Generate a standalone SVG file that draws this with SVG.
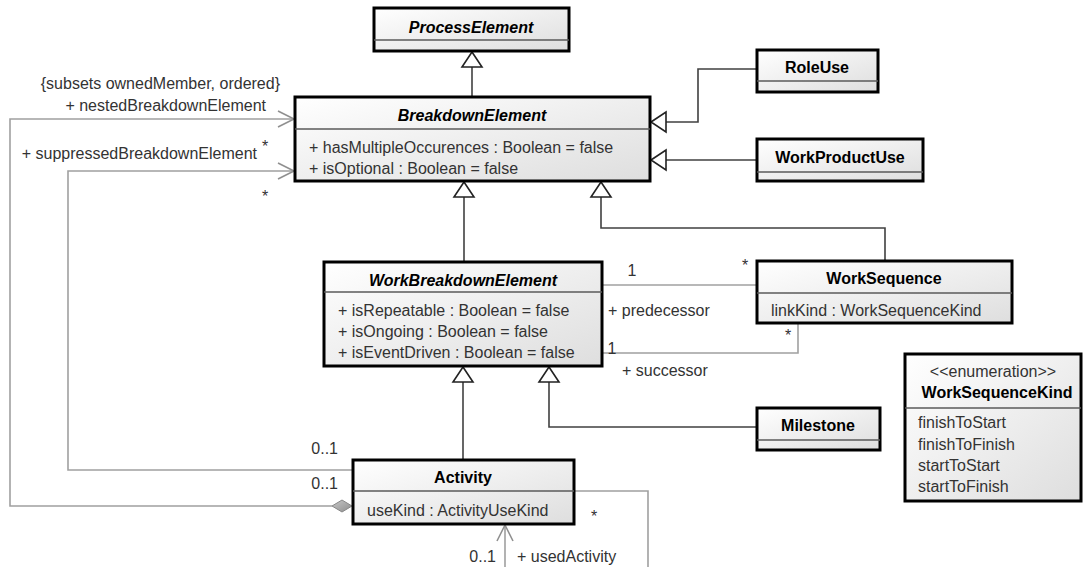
<svg xmlns="http://www.w3.org/2000/svg" width="1084" height="567" viewBox="0 0 1084 567">
<defs>
<linearGradient id="bg" x1="0" y1="0" x2="1" y2="1">
<stop offset="0" stop-color="#ffffff"/>
<stop offset="1" stop-color="#dedede"/>
</linearGradient>
<linearGradient id="dg" x1="0" y1="0" x2="1" y2="1">
<stop offset="0" stop-color="#c8c8c8"/>
<stop offset="1" stop-color="#8c8c8c"/>
</linearGradient>
<style>
.box{fill:url(#bg);stroke:#000;stroke-width:3}
.sep{stroke:#5a5a5a;stroke-width:1.5}
.t{font-family:"Liberation Sans",Arial,sans-serif;font-size:16px;font-weight:bold;fill:#000;text-anchor:middle}
.ti{font-style:italic}
.a{font-family:"Liberation Sans",Arial,sans-serif;font-size:16px;fill:#333}
.l{font-family:"Liberation Sans",Arial,sans-serif;font-size:16px;fill:#333}
.gen{fill:none;stroke:#404040;stroke-width:1.6}
.tri{fill:#fff;stroke:#222;stroke-width:1.6}
.asc{fill:none;stroke:#a0a0a0;stroke-width:1.6}
.ah{fill:none;stroke:#909090;stroke-width:1.6}
</style>
</defs>
<rect width="1084" height="567" fill="#fff"/>

<g id="connectors">
<!-- generalizations -->
<path class="gen" d="M472,96 V67"/>
<polygon class="tri" points="472,52 462,67 482,67"/>
<path class="gen" d="M756,69 H698 V122 H666"/>
<polygon class="tri" points="651,122 666,112 666,132"/>
<path class="gen" d="M756,160 H666"/>
<polygon class="tri" points="651,160 666,150 666,170"/>
<path class="gen" d="M464,261 V197"/>
<polygon class="tri" points="464,182 454,197 474,197"/>
<path class="gen" d="M885,260 V228 H601 V197"/>
<polygon class="tri" points="601,182 591,197 611,197"/>
<path class="gen" d="M463,459 V382"/>
<polygon class="tri" points="463,367 453,382 473,382"/>
<path class="gen" d="M756,427 H549 V382"/>
<polygon class="tri" points="549,367 539,382 559,382"/>
<!-- associations -->
<path class="asc" d="M603,285 H756"/>
<path class="asc" d="M603,353 H798 V324"/>
<path class="asc" d="M332,506 H10 V119 H294"/>
<path class="ah" d="M278,111 L294,119 L278,127"/>
<polygon points="352,506 342,500 332,506 342,512" fill="url(#dg)" stroke="#888" stroke-width="1"/>
<path class="asc" d="M352,470 H68 V171 H294"/>
<path class="ah" d="M278,163 L294,171 L278,179"/>
<path class="asc" d="M575,491 H648 V570 H505 V525"/>
<path class="ah" d="M497,541 L505,525 L513,541"/>
<!-- labels -->
<text class="l" x="280" y="89" text-anchor="end">{subsets ownedMember, ordered}</text>
<text class="l" x="266" y="111" text-anchor="end">+ nestedBreakdownElement</text>
<text class="l" x="257" y="159" text-anchor="end">+ suppressedBreakdownElement</text>
<text class="l" x="265" y="152" text-anchor="middle">*</text>
<text class="l" x="265" y="202" text-anchor="middle">*</text>
<text class="l" x="338" y="454" text-anchor="end">0..1</text>
<text class="l" x="338" y="489" text-anchor="end">0..1</text>
<text class="l" x="632" y="276" text-anchor="middle">1</text>
<text class="l" x="745" y="271" text-anchor="middle">*</text>
<text class="l" x="608" y="316">+ predecessor</text>
<text class="l" x="612" y="354" text-anchor="middle">1</text>
<text class="l" x="788" y="341" text-anchor="middle">*</text>
<text class="l" x="622" y="376">+ successor</text>
<text class="l" x="594" y="522" text-anchor="middle">*</text>
<text class="l" x="496" y="562" text-anchor="end">0..1</text>
<text class="l" x="517" y="562">+ usedActivity</text>
</g>

<g id="ProcessElement">
<rect class="box" x="374" y="8" width="195" height="43"/>
<line class="sep" x1="374" y1="40" x2="569" y2="40"/>
<text class="t ti" x="471" y="33">ProcessElement</text>
</g>

<g id="BreakdownElement">
<rect class="box" x="295" y="97" width="355" height="84"/>
<line class="sep" x1="295" y1="129" x2="650" y2="129"/>
<text class="t ti" x="472" y="121">BreakdownElement</text>
<text class="a" x="309" y="153">+ hasMultipleOccurences : Boolean = false</text>
<text class="a" x="309" y="174">+ isOptional : Boolean = false</text>
</g>

<g id="RoleUse">
<rect class="box" x="757" y="50" width="121" height="42"/>
<line class="sep" x1="757" y1="81" x2="878" y2="81"/>
<text class="t" x="817" y="73">RoleUse</text>
</g>

<g id="WorkProductUse">
<rect class="box" x="757" y="139" width="166" height="42"/>
<line class="sep" x1="757" y1="172" x2="923" y2="172"/>
<text class="t" x="840" y="163">WorkProductUse</text>
</g>

<g id="WorkBreakdownElement">
<rect class="box" x="324" y="262" width="278" height="104"/>
<line class="sep" x1="324" y1="292" x2="602" y2="292"/>
<text class="t ti" x="463" y="286">WorkBreakdownElement</text>
<text class="a" x="338" y="316">+ isRepeatable : Boolean = false</text>
<text class="a" x="338" y="337">+ isOngoing : Boolean = false</text>
<text class="a" x="338" y="358">+ isEventDriven : Boolean = false</text>
</g>

<g id="WorkSequence">
<rect class="box" x="757" y="261" width="255" height="62"/>
<line class="sep" x1="757" y1="293" x2="1012" y2="293"/>
<text class="t" x="884" y="284">WorkSequence</text>
<text class="a" x="771" y="316">linkKind : WorkSequenceKind</text>
</g>

<g id="Milestone">
<rect class="box" x="757" y="408" width="123" height="42"/>
<line class="sep" x1="757" y1="440" x2="880" y2="440"/>
<text class="t" x="818" y="431">Milestone</text>
</g>

<g id="Activity">
<rect class="box" x="353" y="460" width="221" height="64"/>
<line class="sep" x1="353" y1="491" x2="574" y2="491"/>
<text class="t" x="463" y="483">Activity</text>
<text class="a" x="367" y="516">useKind : ActivityUseKind</text>
</g>

<g id="WorkSequenceKind">
<rect class="box" x="905" y="354" width="176" height="147"/>
<line class="sep" x1="905" y1="408" x2="1081" y2="408"/>
<text class="a" x="993" y="377" text-anchor="middle">&lt;&lt;enumeration&gt;&gt;</text>
<text class="t" x="997" y="398">WorkSequenceKind</text>
<text class="a" x="918" y="428">finishToStart</text>
<text class="a" x="918" y="450">finishToFinish</text>
<text class="a" x="918" y="471">startToStart</text>
<text class="a" x="918" y="492">startToFinish</text>
</g>
</svg>
